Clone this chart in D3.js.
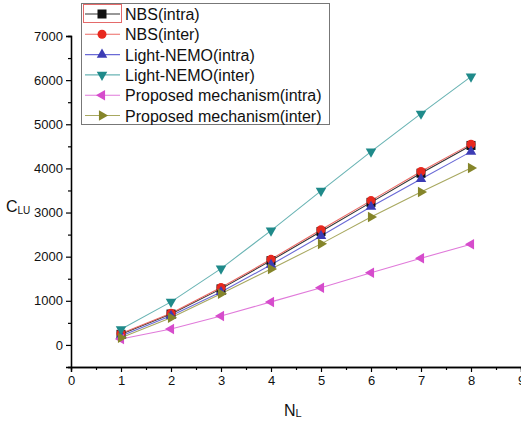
<!DOCTYPE html>
<html>
<head>
<meta charset="utf-8">
<script src="https://cdn.jsdelivr.net/npm/d3@7"></script>
<style>
  body { margin: 0; background: #fff; }
  text { font-family: "Liberation Sans", Arial, sans-serif; fill: #111; }
</style>
</head>
<body>
<div id="chart"></div>
<script>
// Chart data
const nl = [1, 2, 3, 4, 5, 6, 7, 8];
const seriesNames = ["NBS(intra)", "NBS(inter)", "Light-NEMO(intra)", "Light-NEMO(inter)",
  "Proposed mechanism(intra)", "Proposed mechanism(inter)"];
const nbsIntra = [240, 700, 1270, 1910, 2570, 3230, 3890, 4520];
const nbsInter = [260, 720, 1300, 1940, 2610, 3270, 3930, 4550];
const nemoIntra = [205, 660, 1200, 1815, 2470, 3130, 3760, 4380];
const nemoInter = [355, 975, 1730, 2590, 3490, 4380, 5240, 6080];
const propIntra = [135, 360, 655, 975, 1295, 1635, 1965, 2280];
const propInter = [165, 615, 1160, 1720, 2290, 2900, 3465, 4010];
const xTicks = [0, 1, 2, 3, 4, 5, 6, 7, 8, 9];
const yTicks = [0, 1000, 2000, 3000, 4000, 5000, 6000, 7000];

const allValues = [nbsIntra, nbsInter, nemoIntra, nemoInter, propIntra, propInter];
const colors = ["#111111", "#e8281e", "#3c3cb4", "#1f8a8a", "#d64ccc", "#85852a"];
const lineColors = ["#333333", "#ec6a64", "#6a6ad6", "#6ab4b4", "#e07ada", "#a8a860"];
const symbols = ["square", "circle", "up", "down", "left", "right"];

const svgWidth = 521;
const svgHeight = 422;

const svg = d3.select("#chart").append("svg")
  .attr("width", svgWidth)
  .attr("height", svgHeight);

const x = d3.scaleLinear().domain([0, 9]).range([71, 521]);
const y = d3.scaleLinear().domain([-500, 7000]).range([367, 36]);

// axes
svg.append("g")
  .attr("transform", `translate(0, ${y(-500)})`)
  .call(d3.axisBottom(x).tickValues(xTicks).tickSize(5).tickPadding(4).tickFormat(d3.format("d")));
svg.append("g")
  .attr("transform", `translate(0, ${y(-500)})`)
  .call(d3.axisBottom(x).tickValues(d3.range(0.5, 9, 1)).tickSize(3).tickFormat(""));

svg.append("g")
  .attr("transform", `translate(${x(0)}, 0)`)
  .call(d3.axisLeft(y).tickValues(yTicks).tickSize(5).tickPadding(3).tickFormat(d3.format("d")));
svg.append("g")
  .attr("transform", `translate(${x(0)}, 0)`)
  .call(d3.axisLeft(y).tickValues(d3.range(-500, 7000, 1000)).tickSize(3).tickFormat(""));

svg.selectAll(".domain").attr("stroke", "#000").attr("stroke-width", 1.3);
svg.selectAll(".tick line").attr("stroke", "#000").attr("stroke-width", 1.2);
svg.selectAll(".tick text")
  .style("font-family", "'Liberation Sans', Arial, sans-serif")
  .style("font-size", "13px")
  .attr("fill", "#111");

// axis titles
const xTitle = svg.append("text")
  .attr("x", 284)
  .attr("y", 416)
  .style("font-size", "16px");
xTitle.append("tspan").text("N");
xTitle.append("tspan").attr("dy", 1).style("font-size", "11px").text("L");

const yTitle = svg.append("text")
  .attr("x", 6)
  .attr("y", 212)
  .style("font-size", "16px");
yTitle.append("tspan").text("C");
yTitle.append("tspan").attr("dy", 2).style("font-size", "10px").text("LU");

// marker helper
function marker(g, type, color) {
  if (type === "square") {
    g.append("rect").attr("x", -4.5).attr("y", -4.5).attr("width", 9).attr("height", 9).attr("fill", color);
  } else if (type === "circle") {
    g.append("circle").attr("r", 4.5).attr("fill", color);
  } else {
    const t = d3.symbol().type(d3.symbolTriangle).size(48)();
    const rot = { up: 0, down: 180, left: -90, right: 90 }[type];
    g.append("path").attr("d", t).attr("transform", `rotate(${rot})`).attr("fill", color);
  }
}

// series
const line = d3.line().x((d, i) => x(nl[i])).y(d => y(d));
allValues.forEach((vals, k) => {
  svg.append("path")
    .datum(vals)
    .attr("d", line)
    .attr("fill", "none")
    .attr("stroke", lineColors[k])
    .attr("stroke-width", 1.1);
});
allValues.forEach((vals, k) => {
  svg.selectAll(".m" + k)
    .data(vals)
    .enter()
    .append("g")
    .attr("class", "m" + k)
    .attr("transform", (d, i) => `translate(${x(nl[i])}, ${y(d)})`)
    .each(function() { marker(d3.select(this), symbols[k], colors[k]); });
});

// legend
const legend = svg.append("g");
legend.append("rect")
  .attr("x", 81.5).attr("y", 3.5).attr("width", 248).attr("height", 121)
  .attr("fill", "#fff").attr("stroke", "#777").attr("stroke-width", 1);
legend.append("rect")
  .attr("x", 83.5).attr("y", 4.5).attr("width", 38).attr("height", 18)
  .attr("fill", "none").attr("stroke", "#e46a6a").attr("stroke-width", 1);
seriesNames.forEach((name, k) => {
  const ly = 14 + k * 20.3;
  legend.append("line")
    .attr("x1", 85).attr("x2", 120).attr("y1", ly).attr("y2", ly)
    .attr("stroke", lineColors[k]).attr("stroke-width", 1.1);
  const g = legend.append("g").attr("transform", `translate(102, ${ly})`);
  marker(g, symbols[k], colors[k]);
  legend.append("text")
    .attr("x", 125).attr("y", ly + 6)
    .style("font-size", "16px")
    .text(name);
});
</script>
</body>
</html>
